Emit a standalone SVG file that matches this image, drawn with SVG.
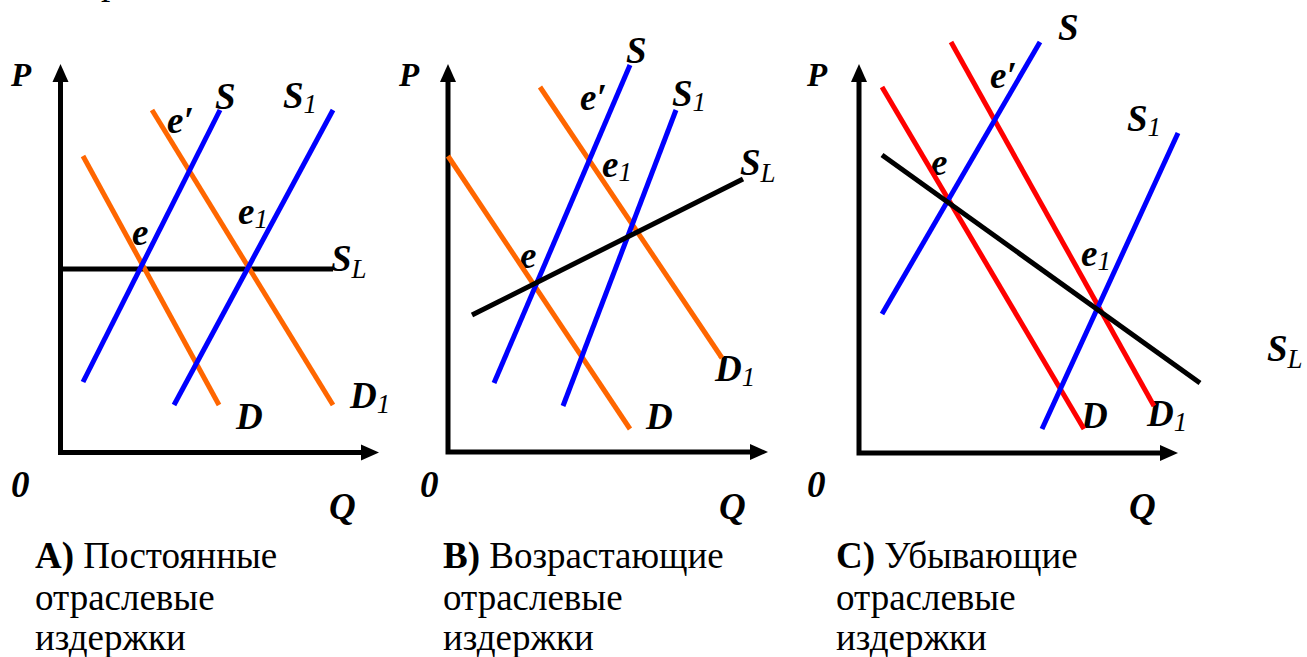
<svg xmlns="http://www.w3.org/2000/svg" width="1307" height="657" viewBox="0 0 1307 657" font-family="'Liberation Serif', 'DejaVu Serif', serif">
<style>
text{font-family:'Liberation Serif','DejaVu Serif',serif;fill:#000}
.lb{font-weight:bold;font-style:italic;font-size:37px}
.p{font-weight:bold;font-style:italic;font-size:33px}
.sub{font-weight:normal;font-style:italic;font-size:27px}
.cap{font-size:37px}
.b{font-weight:bold}
.ax{fill:none;stroke:#000;stroke-width:5;stroke-linejoin:miter}
.ah{fill:#000}
.bl{stroke:#0000FF;stroke-width:5}
.or{stroke:#FF6600;stroke-width:5}
.rd{stroke:#FF0000;stroke-width:5}
.bk{stroke:#000;stroke-width:5}
</style>
<rect width="1307" height="657" fill="#fff"/>
<text class="cap" x="101" y="-6.5">р</text>

<g id="panelA">
  <g id="A-labels">
    <text class="p" x="11" y="86">P</text>
    <text class="lb" x="167" y="133">e′</text>
    <text class="lb" x="215" y="109">S</text>
    <text class="lb" x="283" y="108">S<tspan class="sub" dy="5">1</tspan></text>
    <text class="lb" x="132" y="245">e</text>
    <text class="lb" x="238" y="224">e<tspan class="sub" dy="4">1</tspan></text>
    <text class="lb" x="331" y="271">S<tspan class="sub" dy="7">L</tspan></text>
    <text class="lb" x="350" y="408">D<tspan class="sub" dy="5">1</tspan></text>
    <text class="lb" x="236" y="429">D</text>
    <text class="lb" x="11" y="497">0</text>
    <text class="lb" x="329" y="519">Q</text>
  </g>
  <g id="A-axes">
    <path class="ax" d="M60.5,80 V452.5 H364"/>
    <polygon class="ah" points="60.5,64 52.5,82 68.5,82"/>
    <polygon class="ah" points="379,452.5 361,444.5 361,460.5"/>
  </g>
  <g id="A-curves">
    <line class="bk" x1="60" y1="269" x2="333" y2="269"/>
    <line class="or" x1="83" y1="156" x2="219" y2="405"/>
    <line class="or" x1="152" y1="110" x2="333" y2="405"/>
    <line class="bl" x1="83" y1="382" x2="220" y2="110"/>
    <line class="bl" x1="174" y1="405" x2="333" y2="110"/>
  </g>
  <text id="A-caption" class="cap" x="35" y="568"><tspan class="b">А)</tspan> Постоянные<tspan x="35" y="610">отраслевые</tspan><tspan x="35" y="650">издержки</tspan></text>
</g>

<g id="panelB">
  <g id="B-labels">
    <text class="p" x="399" y="86">P</text>
    <text class="lb" x="626" y="63">S</text>
    <text class="lb" x="580" y="110">e′</text>
    <text class="lb" x="672" y="106">S<tspan class="sub" dy="5">1</tspan></text>
    <text class="lb" x="740" y="175">S<tspan class="sub" dy="7">L</tspan></text>
    <text class="lb" x="602" y="177">e<tspan class="sub" dy="4">1</tspan></text>
    <text class="lb" x="520" y="268">e</text>
    <text class="lb" x="715" y="381">D<tspan class="sub" dy="5">1</tspan></text>
    <text class="lb" x="646" y="429">D</text>
    <text class="lb" x="420" y="497">0</text>
    <text class="lb" x="719" y="519">Q</text>
  </g>
  <g id="B-axes">
    <path class="ax" d="M448,80 V452 H752"/>
    <polygon class="ah" points="448,64 440,82 456,82"/>
    <polygon class="ah" points="768,452 750,444 750,460"/>
  </g>
  <g id="B-curves">
    <line class="or" x1="448" y1="156" x2="630" y2="429"/>
    <line class="or" x1="540" y1="87" x2="722" y2="358"/>
    <line class="bl" x1="494" y1="383" x2="630" y2="65"/>
    <line class="bl" x1="563" y1="406" x2="676" y2="110"/>
    <line class="bk" x1="472" y1="315" x2="743" y2="179"/>
  </g>
  <text id="B-caption" class="cap" x="443" y="568"><tspan class="b">В)</tspan> Возрастающие<tspan x="443" y="610">отраслевые</tspan><tspan x="443" y="650">издержки</tspan></text>
</g>

<g id="panelC">
  <g id="C-labels">
    <text class="p" x="807" y="86">P</text>
    <text class="lb" x="1058" y="40">S</text>
    <text class="lb" x="990" y="88">e′</text>
    <text class="lb" x="1127" y="131">S<tspan class="sub" dy="5">1</tspan></text>
    <text class="lb" x="931" y="175">e</text>
    <text class="lb" x="1081" y="266">e<tspan class="sub" dy="4">1</tspan></text>
    <text class="lb" x="1267" y="361">S<tspan class="sub" dy="7">L</tspan></text>
    <text class="lb" x="1081" y="428">D</text>
    <text class="lb" x="1147" y="426">D<tspan class="sub" dy="5">1</tspan></text>
    <text class="lb" x="807" y="497">0</text>
    <text class="lb" x="1129" y="519">Q</text>
  </g>
  <g id="C-axes">
    <path class="ax" d="M859,80 V453 H1162"/>
    <polygon class="ah" points="859,64 851,82 867,82"/>
    <polygon class="ah" points="1178,453 1160,445 1160,461"/>
  </g>
  <g id="C-curves">
    <line class="rd" x1="882" y1="87" x2="1084" y2="429"/>
    <line class="rd" x1="951" y1="42" x2="1154" y2="406"/>
    <line class="bl" x1="882" y1="314" x2="1040" y2="42"/>
    <line class="bl" x1="1042" y1="429" x2="1178" y2="133"/>
    <line class="bk" x1="882" y1="155" x2="1200" y2="383"/>
  </g>
  <text id="C-caption" class="cap" x="836" y="568"><tspan class="b">С)</tspan> Убывающие<tspan x="836" y="610">отраслевые</tspan><tspan x="836" y="650">издержки</tspan></text>
</g>
</svg>
